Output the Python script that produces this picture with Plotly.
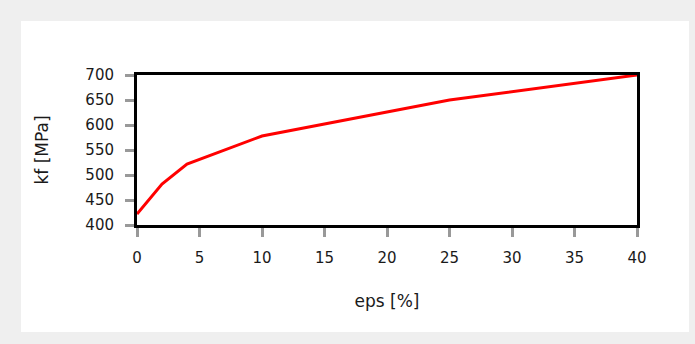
import plotly.graph_objects as go

eps = [0, 2, 4, 10, 25, 40]
kf = [422, 482, 522, 578, 650, 700]
x_ticks = [0, 5, 10, 15, 20, 25, 30, 35, 40]
y_ticks = [400, 450, 500, 550, 600, 650, 700]

W, H = 695, 344
ml, mr, mt, mb = 137, 58, 75, 119
pw, ph = W - ml - mr, H - mt - mb

def px_x(p):
    return (p - ml) / pw

def px_y(p):
    return (H - mb - p) / ph

fig = go.Figure()
fig.add_trace(go.Scatter(x=eps, y=kf, mode="lines",
                         line=dict(color="#ff0000", width=3), showlegend=False))

tick_font = dict(family="DejaVu Sans", size=15, color="#1a1a1a")
title_font = dict(family="DejaVu Sans", size=17, color="#1a1a1a")

fig.update_layout(
    width=W, height=H,
    margin=dict(l=ml, r=mr, t=mt, b=mb),
    paper_bgcolor="#efefef",
    plot_bgcolor="white",
    font=tick_font,
    shapes=[dict(type="rect", xref="paper", yref="paper", layer="below",
                 x0=px_x(21), x1=px_x(689), y0=px_y(21), y1=px_y(332),
                 fillcolor="white", line=dict(width=0))],
    xaxis=dict(range=[0, 40], tickvals=x_ticks, showgrid=False, zeroline=False,
               showline=True, linecolor="black", linewidth=3, mirror=True,
               ticks="outside", ticklen=9, tickcolor="#999", tickwidth=3,
               tickfont=tick_font, ticklabelstandoff=8,
               title=dict(text="eps [%]", standoff=30, font=title_font)),
    yaxis=dict(range=[400, 700], tickvals=y_ticks, showgrid=False, zeroline=False,
               showline=True, linecolor="black", linewidth=3, mirror=True,
               ticks="outside", ticklen=9, tickcolor="#999", tickwidth=3,
               tickfont=tick_font, ticklabelstandoff=8,
               title=dict(text="kf [MPa]", standoff=33, font=title_font)),
)

fig.write_html("out.html")
